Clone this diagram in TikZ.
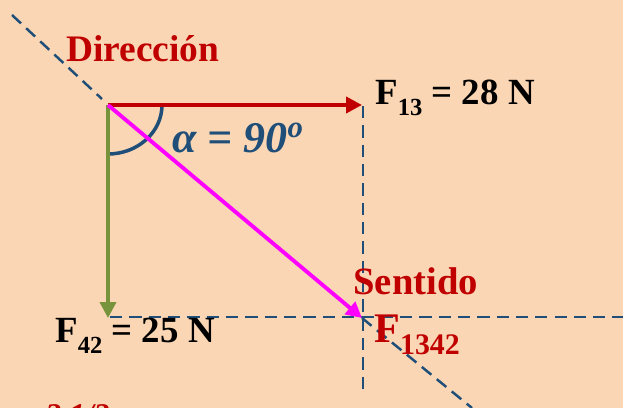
\documentclass[tikz,border=0pt]{standalone}
\usepackage{fontspec}
\setmainfont{Liberation Serif}
\usetikzlibrary{arrows.meta}
\definecolor{peach}{RGB}{250,214,180}
\definecolor{darkred}{RGB}{192,0,0}
\definecolor{navy}{RGB}{31,78,121}
\definecolor{olive}{RGB}{119,147,60}
\definecolor{pinkmag}{RGB}{255,0,255}
\newcommand{\lowsub}[2]{\raisebox{-0.28em}{\fontsize{#1}{#1}\selectfont #2}}
\begin{document}
\begin{tikzpicture}[x=0.02cm, y=-0.02cm, >={Triangle[length=9pt,width=9pt]},
  dashline/.style={navy, line width=1.4pt, dash pattern=on 7pt off 4pt},
  force/.style={->, line width=2.2pt},
  lbl/.style={inner sep=0pt, anchor=base west, font=\bfseries}]
% Background
\fill[peach] (0,0) rectangle (623,408);
\useasboundingbox (0,0) rectangle (623,408);
\clip (0,0) rectangle (623,408);

% Points
\coordinate (O) at (108,105);
\coordinate (F13end) at (362,105);
\coordinate (F42end) at (108,318);
\coordinate (Rend) at (362,318);
\coordinate (dtop) at (12,15);
\coordinate (dstop) at (102,99);
\coordinate (vtop) at (363,106);
\coordinate (vbot) at (363,395);
\coordinate (hstart) at (110,317);
\coordinate (hend) at (623,317);
\coordinate (dbot) at (472,408);

% Dashed guides
\draw[dashline] (dtop) -- (dstop);
\draw[dashline] (vtop) -- (vbot);
\draw[dashline] (hstart) -- (hend);
\draw[dashline] (Rend) -- (dbot);

% Angle
\draw[navy, line width=2pt] (108,154) arc (90:0:54 and 49);

% Forces
\draw[force, darkred] (O) -- (F13end);
\draw[force, olive] (O) -- (F42end);
\draw[force, pinkmag] (O) -- (Rend);

% Labels
\node[lbl, darkred, font=\bfseries\fontsize{21.3}{25}\selectfont] (dir) at (66,62) {Dirección};
\node[lbl, font=\bfseries\fontsize{21}{25}\selectfont] (f13) at (375,105) {F\lowsub{14}{13} = 28 N};
\node[lbl, navy, font=\bfseries\itshape\fontsize{25}{30}\selectfont] (alpha) at (172,153) {α = 90\textsuperscript{o}};
\node[lbl, darkred, font=\bfseries\fontsize{22}{26}\selectfont] (sent) at (353,295) {Sentido};
\node[lbl, darkred, font=\bfseries\fontsize{24}{28}\selectfont] (f1342) at (374,343) {F\lowsub{17}{1342}};
\node[lbl, font=\bfseries\fontsize{21}{25}\selectfont] (f42) at (55,343) {F\lowsub{14}{42} = 25 N};
\node[lbl, darkred, font=\bfseries\itshape\fontsize{18}{22}\selectfont] (cut) at (45,426) {2\hspace{0.25em}1/2};
\end{tikzpicture}
\end{document}
